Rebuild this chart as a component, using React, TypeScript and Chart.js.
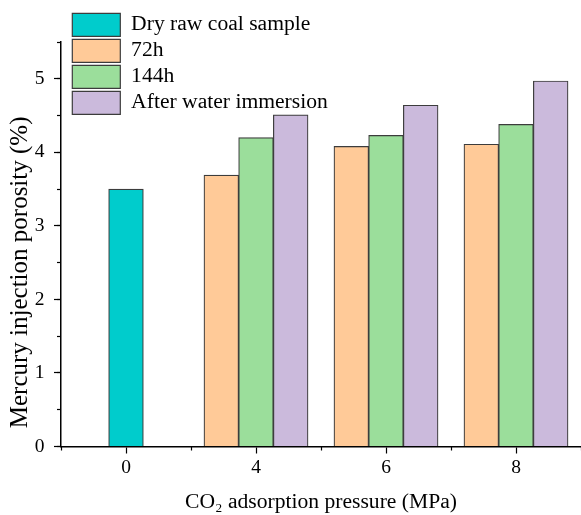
import React, { useEffect, useRef } from 'react';
import { Chart, registerables } from 'chart.js';

Chart.register(...registerables);

// ---- data ----
const categories = ['0', '4', '6', '8'];
const seriesLabels = ['Dry raw coal sample', '72h', '144h', 'After water immersion'];
const dryRawCoal = [3.5, null, null, null];
const after72h = [null, 3.69, 4.08, 4.11];
const after144h = [null, 4.2, 4.23, 4.38];
const afterWaterImmersion = [null, 4.51, 4.64, 4.97];
const yMin = 0;
const yMax = 5.5;
const yMajorStep = 1;
const yMinorStep = 0.5;

// ---- styles ----
const FONT = "'Liberation Serif', 'Times New Roman', serif";
const fills = ['#00CCCC', '#FFCA98', '#9BDE9B', '#CBBADC'];
const edge = '#3c3c3c';

export default function App() {
  const ref = useRef<HTMLCanvasElement>(null);

  useEffect(() => {
    const canvas = ref.current as HTMLCanvasElement;
    const legendPlacement = {
      id: 'legendPlacement',
      afterLayout(chart: any) {
        const lg = chart.legend;
        if (!lg) return;
        const w = lg.right - lg.left;
        const h = lg.bottom - lg.top;
        lg.left = 69.3;
        lg.top = 10.3;
        lg.right = lg.left + w;
        lg.bottom = lg.top + h;
      },
    };
    const seriesData = [dryRawCoal, after72h, after144h, afterWaterImmersion];
    const chart = new Chart(canvas, {
      type: 'bar',
      data: {
        labels: categories,
        datasets: seriesData.map((d, i) => ({
          label: seriesLabels[i],
          data: d,
          backgroundColor: fills[i],
          borderColor: edge,
          borderWidth: 1.2,
          borderSkipped: 'bottom',
          barThickness: 34.7,
          skipNull: true,
        })) as any,
      },
      options: {
        animation: false,
        responsive: true,
        maintainAspectRatio: false,
        layout: { padding: { top: 42, right: 0, left: 0, bottom: 0 } },
        plugins: {
          tooltip: { enabled: false },
          legend: {
            position: 'chartArea' as any,
            align: 'start',
            labels: {
              boxWidth: 48,
              boxHeight: 23,
              padding: 3,
              color: '#000',
              font: { family: FONT, size: 21.6 },
            },
          },
        },
        scales: {
          x: {
            type: 'category',
            position: 'bottom',
            weight: 1,
            offset: true,
            grid: {
              display: true,
              offset: false,
              drawOnChartArea: false,
              drawTicks: true,
              tickLength: 7,
              color: '#000',
              tickWidth: 1.2,
            },
            border: { display: true, color: '#000', width: 1.5 },
            ticks: { color: '#000', font: { family: FONT, size: 19.5 }, padding: 3, maxRotation: 0 },
            title: {
              display: true,
              text: 'CO₂ adsorption pressure (MPa)',
              color: '#000',
              font: { family: FONT, size: 21.6, lineHeight: 1.2 },
              padding: { top: 0, bottom: 0 },
            },
            afterFit(scale: any) {
              scale.height = 68.5;
            },
          },
          x2: {
            type: 'category',
            position: 'bottom',
            weight: 0,
            offset: true,
            grid: {
              display: true,
              offset: true,
              drawOnChartArea: false,
              drawTicks: true,
              tickLength: 4,
              color: '#000',
              tickWidth: 1.2,
            },
            border: { display: false },
            ticks: { display: false },
            afterFit(scale: any) {
              scale.height = 0;
            },
          },
          y: {
            type: 'linear',
            position: 'left',
            weight: 1,
            min: yMin,
            max: yMax,
            ticks: {
              stepSize: yMajorStep,
              includeBounds: false,
              color: '#000',
              font: { family: FONT, size: 19.5 },
              padding: 9.5,
            },
            grid: { drawOnChartArea: false, tickLength: 7, color: '#000', tickWidth: 1.2 },
            border: { display: true, color: '#000', width: 1.5 },
            title: {
              display: true,
              text: 'Mercury injection porosity (%)         ',
              color: '#000',
              font: { family: FONT, size: 25, lineHeight: 1.2 },
              padding: { top: 5.8, bottom: 0 },
            },
            afterFit(scale: any) {
              scale.width = 61;
            },
          },
          y2: {
            type: 'linear',
            position: 'left',
            weight: 0,
            min: yMin,
            max: yMax,
            ticks: { display: false, stepSize: yMinorStep, includeBounds: false },
            grid: { drawOnChartArea: false, tickLength: 4, color: '#000', tickWidth: 1.2 },
            border: { display: false },
            afterFit(scale: any) {
              scale.width = 0;
            },
          },
        },
      } as any,
      plugins: [legendPlacement],
    });
    return () => chart.destroy();
  }, []);

  return (
    <div style={{ position: 'absolute', left: 0, top: 0, width: 581, height: 515, background: '#fff' }}>
      <canvas ref={ref} />
    </div>
  );
}
